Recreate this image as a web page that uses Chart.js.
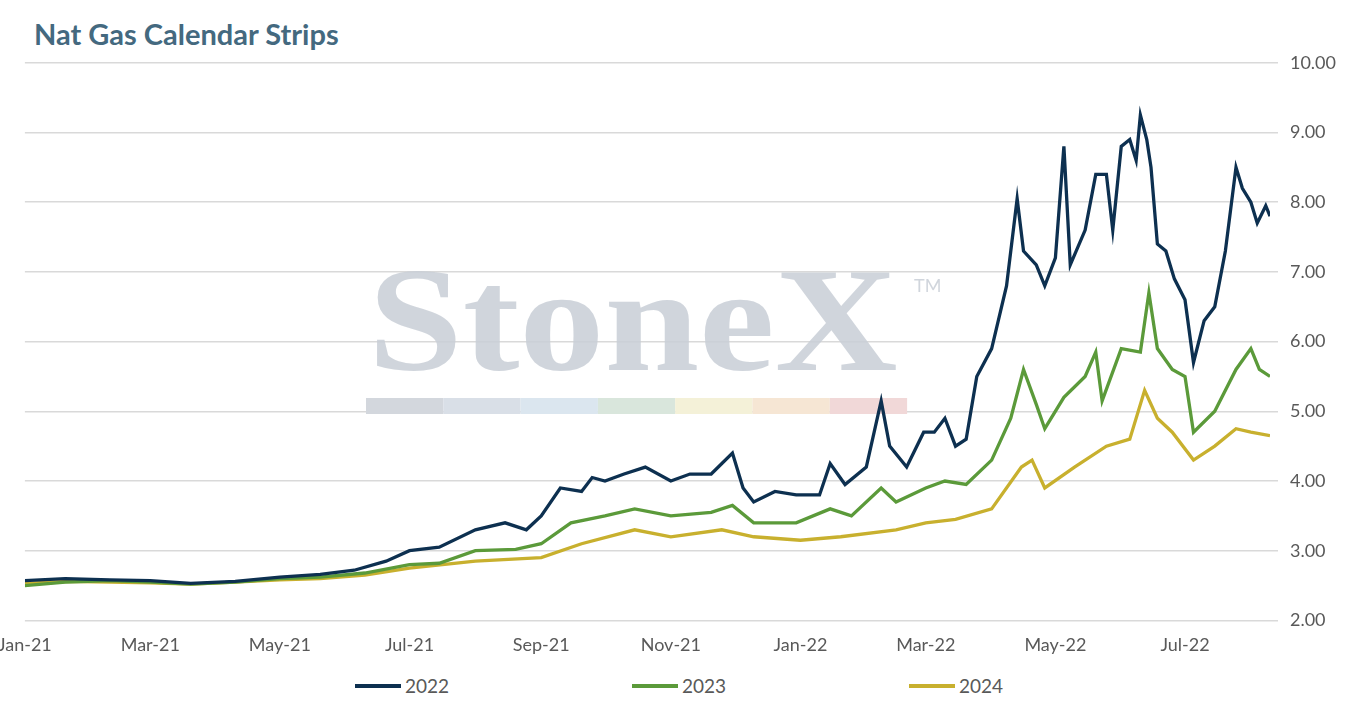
<!DOCTYPE html>
<html>
<head>
<meta charset="utf-8">
<script src="https://cdn.jsdelivr.net/npm/chart.js@4"></script>
<style>
  body { margin: 0; background: #fff; overflow: hidden; }
  #title { position: absolute; left: 34px; top: 16px; font: bold 29px Lato, sans-serif; color: #44697f; }
  #wrap { position: absolute; left: -8px; top: 40px; width: 1356px; height: 622px; }
  #legend { position: absolute; top: 674px; left: 0; width: 1354px; font: 19px Lato, sans-serif; color: #595959; }
  .item { position: absolute; display: flex; align-items: center; }
  .item span { display: inline-block; width: 46px; height: 4px; margin-right: 4px; }
</style>
</head>
<body>
<div id="title">Nat Gas Calendar Strips</div>
<div id="wrap"><canvas id="c"></canvas></div>
<div id="legend"></div>
<script>
// Dates and values
const dates2022 = ['2021-01-01','2021-01-20','2021-02-10','2021-03-01','2021-03-20','2021-04-10','2021-05-01','2021-05-20','2021-06-05','2021-06-20','2021-07-01','2021-07-15','2021-08-01','2021-08-15','2021-08-25','2021-09-01','2021-09-10','2021-09-20','2021-09-25','2021-10-01','2021-10-10','2021-10-20','2021-11-01','2021-11-10','2021-11-20','2021-11-30','2021-12-05','2021-12-10','2021-12-20','2021-12-30','2022-01-10','2022-01-15','2022-01-22','2022-02-01','2022-02-08','2022-02-12','2022-02-20','2022-02-28','2022-03-05','2022-03-10','2022-03-15','2022-03-20','2022-03-25','2022-04-01','2022-04-08','2022-04-13','2022-04-16','2022-04-22','2022-04-26','2022-05-01','2022-05-05','2022-05-08','2022-05-15','2022-05-20','2022-05-25','2022-05-28','2022-06-01','2022-06-05','2022-06-08','2022-06-10','2022-06-13','2022-06-15','2022-06-18','2022-06-22','2022-06-26','2022-07-01','2022-07-05','2022-07-10','2022-07-15','2022-07-20','2022-07-25','2022-07-28','2022-08-01','2022-08-04','2022-08-08','2022-08-10'];
const values2022 = [2.57,2.6,2.58,2.57,2.53,2.56,2.62,2.66,2.72,2.85,3.0,3.05,3.3,3.4,3.3,3.5,3.9,3.85,4.05,4.0,4.1,4.2,4.0,4.1,4.1,4.4,3.9,3.7,3.85,3.8,3.8,4.25,3.95,4.2,5.15,4.5,4.2,4.7,4.7,4.9,4.5,4.6,5.5,5.9,6.8,8.05,7.3,7.1,6.8,7.2,8.8,7.1,7.6,8.4,8.4,7.6,8.8,8.9,8.6,9.25,8.9,8.5,7.4,7.3,6.9,6.6,5.7,6.3,6.5,7.3,8.5,8.2,8.0,7.7,7.95,7.8];

const dates2023 = ['2021-01-01','2021-01-20','2021-02-10','2021-03-01','2021-03-20','2021-04-10','2021-05-01','2021-05-20','2021-06-10','2021-07-01','2021-07-15','2021-08-01','2021-08-20','2021-09-01','2021-09-15','2021-10-01','2021-10-15','2021-11-01','2021-11-20','2021-11-30','2021-12-10','2021-12-30','2022-01-15','2022-01-25','2022-02-08','2022-02-15','2022-03-01','2022-03-10','2022-03-20','2022-04-01','2022-04-10','2022-04-16','2022-04-22','2022-04-26','2022-05-05','2022-05-15','2022-05-20','2022-05-23','2022-06-01','2022-06-10','2022-06-14','2022-06-18','2022-06-25','2022-07-01','2022-07-05','2022-07-15','2022-07-25','2022-08-01','2022-08-05','2022-08-10'];
const values2023 = [2.5,2.55,2.57,2.55,2.52,2.55,2.6,2.62,2.68,2.8,2.82,3.0,3.02,3.1,3.4,3.5,3.6,3.5,3.55,3.65,3.4,3.4,3.6,3.5,3.9,3.7,3.9,4.0,3.95,4.3,4.9,5.6,5.1,4.75,5.2,5.5,5.85,5.15,5.9,5.85,6.7,5.9,5.6,5.5,4.7,5.0,5.6,5.9,5.6,5.5];

const dates2024 = ['2021-01-01','2021-01-20','2021-02-10','2021-03-01','2021-03-20','2021-04-10','2021-05-01','2021-05-20','2021-06-10','2021-07-01','2021-08-01','2021-09-01','2021-09-20','2021-10-15','2021-11-01','2021-11-25','2021-12-10','2022-01-01','2022-01-20','2022-02-15','2022-03-01','2022-03-15','2022-04-01','2022-04-15','2022-04-20','2022-04-26','2022-05-10','2022-05-25','2022-06-05','2022-06-12','2022-06-18','2022-06-25','2022-07-05','2022-07-15','2022-07-25','2022-08-01','2022-08-10'];
const values2024 = [2.53,2.56,2.55,2.54,2.52,2.55,2.58,2.6,2.65,2.75,2.85,2.9,3.1,3.3,3.2,3.3,3.2,3.15,3.2,3.3,3.4,3.45,3.6,4.2,4.3,3.9,4.2,4.5,4.6,5.3,4.9,4.7,4.3,4.5,4.75,4.7,4.65];

const tickDates = ['2021-01-01','2021-03-01','2021-05-01','2021-07-01','2021-09-01','2021-11-01','2022-01-01','2022-03-01','2022-05-01','2022-07-01'];
const tickLabels = ['Jan-21','Mar-21','May-21','Jul-21','Sep-21','Nov-21','Jan-22','Mar-22','May-22','Jul-22'];
const endDate = '2022-08-10';

const t0 = Date.UTC(2021, 0, 1);
function dayOf(s) { const p = s.split('-'); return (Date.UTC(+p[0], +p[1] - 1, +p[2]) - t0) / 86400000; }
function pts(d, v) { return d.map((s, i) => ({ x: dayOf(s), y: v[i] })); }
const tickDays = tickDates.map(dayOf);

const watermark = {
  id: 'watermark',
  beforeDatasetsDraw(chart) {
    const ctx = chart.ctx;
    ctx.save();
    ctx.fillStyle = 'rgba(200,206,214,0.85)';
    ctx.save();
    ctx.translate(376, 330);
    ctx.scale(1.15, 1);
    ctx.font = 'bold 148px "Liberation Serif", serif';
    ctx.textBaseline = 'alphabetic';
    ctx.fillText('StoneX', 0, 0);
    ctx.restore();
    ctx.font = '18px Lato';
    ctx.fillText('TM', 922, 252);
    const cols = ['#d3d7dd', '#d9dfe7', '#dbe6ef', '#d9e6dc', '#f4f1d8', '#f6e6d4', '#f1d8d8'];
    cols.forEach((c, i) => { ctx.fillStyle = c; ctx.fillRect(374 + i * 77.3, 358, 77.3, 16); });
    ctx.restore();
  }
};

const series = [
  { label: '2022', dates: dates2022, values: values2022, color: '#0d3050', left: 355 },
  { label: '2023', dates: dates2023, values: values2023, color: '#5b9a3a', left: 632 },
  { label: '2024', dates: dates2024, values: values2024, color: '#c8b02e', left: 909 }
];

const legend = document.getElementById('legend');
series.forEach(s => {
  const d = document.createElement('div');
  d.className = 'item';
  d.style.left = s.left + 'px';
  d.innerHTML = '<span style="background:' + s.color + '"></span>' + s.label;
  legend.appendChild(d);
});

new Chart(document.getElementById('c'), {
  type: 'line',
  data: {
    datasets: series.map(s => ({ label: s.label, data: pts(s.dates, s.values), borderColor: s.color, backgroundColor: s.color }))
  },
  options: {
    responsive: true,
    maintainAspectRatio: false,
    animation: false,
    elements: { point: { radius: 0 }, line: { borderWidth: 3.3, tension: 0 } },
    plugins: { legend: { display: false }, tooltip: { enabled: false } },
    scales: {
      x: {
        type: 'linear', min: 0, max: dayOf(endDate),
        afterBuildTicks(axis) { axis.ticks = tickDays.map(v => ({ value: v })); },
        ticks: { autoSkip: false, maxRotation: 0, color: '#595959', font: { family: 'Lato', size: 18 }, padding: 6,
          callback(v) { const i = tickDays.indexOf(v); return i >= 0 ? tickLabels[i] : ''; } },
        grid: { display: false },
        border: { display: false }
      },
      y: {
        position: 'right', min: 2, max: 10,
        ticks: { stepSize: 1, color: '#595959', font: { family: 'Lato', size: 18 }, padding: 12, callback: v => v.toFixed(2) },
        grid: { color: '#d9d9d9', lineWidth: 1.5 },
        border: { display: false }
      }
    }
  },
  plugins: [watermark]
});
</script>
</body>
</html>
